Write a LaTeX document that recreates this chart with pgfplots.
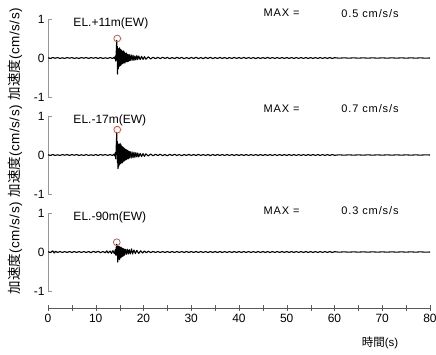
\documentclass[border=0pt]{standalone}
\usepackage{fontspec}
\setmainfont{Liberation Sans}
\newfontfamily\jp{Noto Sans CJK JP}
\usepackage{pgfplots}
\pgfplotsset{compat=1.18}
\definecolor{circred}{RGB}{215,85,65}
\definecolor{axgray}{RGB}{150,150,150}
\pgfplotsset{
 panel/.style={scale only axis, width=382pt, height=78pt, xmin=0, xmax=80, ymin=-1, ymax=1,
   axis x line=none, axis y line*=left, ytick={-1,0,1}, tick align=inside, major tick length=4pt,
   y axis line style={axgray,-}, ytick style={axgray},
   yticklabel style={font=\fontsize{12}{14}\selectfont},
   /pgf/number format/assume math mode=true,
   ylabel={{\jp 加速度}(cm/s/s)},
   every axis y label/.style={at={(rel axis cs:-0.0864,0.55)}, rotate=90, anchor=center,
     font=\fontsize{13.5}{15}\selectfont\addfontfeatures{LetterSpace=4}},
   clip=false},
 wave/.style={black, line width=1.1pt, line join=round, no markers},
 peak/.style={only marks, mark=o, mark size=3.4pt, circred, mark options={line width=0.8pt}},
}
\tikzset{
 eltext/.style={anchor=west, font=\fontsize{12}{14}\selectfont},
 maxtext/.style={anchor=west, font=\fontsize{11}{13}\selectfont\addfontfeatures{LetterSpace=8}},
}
\begin{document}
\begin{tikzpicture}
\useasboundingbox (0,0) rectangle (436pt,354pt);
% ---------------- panel 1 ----------------
\begin{axis}[panel, at={(48pt,257pt)}, anchor=south west]
\addplot[wave] coordinates {(0,0.006)(0.5,-0.012)(1,0.012)(1.5,-0.006)(2,0.012)(2.5,-0.012)(3,0.006)(3.5,-0.012)(4,0.012)(4.5,-0.006)(5,0.012)(5.5,-0.012)(6,0.006)(6.5,-0.012)(7,0.012)(7.5,-0.006)(8,0.012)(8.5,-0.012)(9,0.012)(9.5,-0.006)(10,0.012)(10.5,-0.012)(11,0.012)(11.5,-0.012)(12,0.006)(12.5,-0.012)(13,0.012)(13.5,-0.012)(13.8,0.015)(14,-0.02)(14.1,0.05)(14.2,-0.08)(14.3,0.18)(14.4,0.45)(14.45,-0.05)(14.5,0.3)(14.55,-0.41)(14.6,0.2)(14.7,-0.28)(14.8,0.24)(14.9,-0.22)(15,0.26)(15.1,-0.2)(15.2,0.22)(15.3,-0.18)(15.4,0.2)(15.5,-0.15)(15.6,0.17)(15.7,-0.14)(15.8,0.18)(15.9,-0.12)(16,0.15)(16.1,-0.13)(16.2,0.12)(16.3,-0.1)(16.4,0.13)(16.5,-0.09)(16.6,0.1)(16.7,-0.1)(16.8,0.08)(16.9,-0.08)(17,0.09)(17.2,-0.07)(17.4,0.08)(17.6,-0.06)(17.8,0.07)(18,-0.06)(18.2,0.05)(18.4,-0.05)(18.6,0.06)(18.8,-0.04)(19,0.05)(19.3,-0.04)(19.6,0.04)(19.9,-0.035)(20.2,0.035)(20.5,-0.03)(21,0.03)(21.5,-0.025)(22,0.02)(22.5,-0.018)(23,0.018)(23.5,-0.015)(24,0.018)(24.5,-0.012)(25,0.015)(25.5,-0.018)(26,0.012)(26.5,-0.015)(27,0.018)(27.5,-0.012)(28,0.015)(28.5,-0.018)(29,0.012)(29.5,-0.015)(30,0.015)(30.5,-0.012)(31,0.018)(31.5,-0.015)(32,0.012)(32.5,-0.015)(33,0.015)(33.5,-0.012)(34,0.018)(34.5,-0.015)(35,0.012)(35.5,-0.012)(36,0.015)(36.5,-0.012)(37,0.012)(37.5,-0.015)(38,0.012)(38.5,-0.012)(39,0.015)(39.5,-0.012)(40,0.012)(40.5,-0.012)(41,0.015)(41.5,-0.012)(42,0.012)(42.5,-0.012)(43,0.012)(43.5,-0.015)(44,0.012)(44.5,-0.012)(45,0.012)(45.5,-0.012)(46,0.015)(46.5,-0.012)(47,0.012)(47.5,-0.012)(48,0.012)(48.5,-0.012)(49,0.012)(49.5,-0.012)(50,0.012)(50.5,-0.012)(51,0.012)(51.5,-0.012)(52,0.012)(52.5,-0.012)(53,0.012)(53.5,-0.012)(54,0.012)(54.5,-0.012)(55,0.012)(55.5,-0.012)(56,0.012)(56.5,-0.012)(57,0.012)(57.5,-0.012)(58,0.012)(58.5,-0.012)(59,0.012)(59.5,-0.012)(60,0.008)(61,-0.005)(62,0.005)(63,-0.005)(64,0.005)(65,-0.005)(66,0.005)(67,-0.005)(68,0.005)(69,-0.005)(70,0.005)(71,-0.005)(72,0.005)(73,-0.005)(74,0.005)(75,-0.005)(76,0.005)(77,-0.005)(78,0.005)(79,-0.005)(80,0)};
\addplot[peak] coordinates {(14.5,0.5)};
\node[eltext] at (axis cs:4.6,0.9) {EL.+11m(EW)};
\node[maxtext] at (axis cs:44.4,1.15) {MAX =};
\node[maxtext] at (axis cs:60.7,1.15) {0.5 cm/s/s};
\end{axis}
% ---------------- panel 2 ----------------
\begin{axis}[panel, at={(48pt,160pt)}, anchor=south west]
\addplot[wave] coordinates {(0,0.006)(0.5,-0.012)(1,0.012)(1.5,-0.012)(2,0.006)(2.5,-0.012)(3,0.012)(3.5,-0.006)(4,0.012)(4.5,-0.012)(5,0.012)(5.5,-0.006)(6,0.012)(6.5,-0.012)(7,0.006)(7.5,-0.012)(8,0.012)(8.5,-0.012)(9,0.006)(9.5,-0.012)(10,0.012)(10.5,-0.012)(11,0.012)(11.5,-0.006)(12,0.012)(12.5,-0.012)(13,0.012)(13.5,-0.012)(13.8,0.02)(14,-0.025)(14.1,0.06)(14.2,-0.1)(14.3,0.25)(14.4,0.58)(14.45,0.1)(14.5,0.35)(14.55,-0.2)(14.6,0.3)(14.65,-0.35)(14.7,0.28)(14.8,-0.3)(14.9,0.27)(15,-0.25)(15.1,0.3)(15.2,-0.22)(15.3,0.26)(15.4,-0.2)(15.5,0.22)(15.6,-0.2)(15.7,0.2)(15.8,-0.16)(15.9,0.18)(16,-0.15)(16.1,0.16)(16.2,-0.13)(16.3,0.14)(16.4,-0.12)(16.5,0.13)(16.6,-0.1)(16.7,0.11)(16.8,-0.1)(16.9,0.1)(17,-0.08)(17.2,0.09)(17.4,-0.08)(17.6,0.08)(17.8,-0.07)(18,0.07)(18.2,-0.06)(18.4,0.06)(18.6,-0.05)(18.8,0.05)(19,-0.05)(19.3,0.04)(19.6,-0.04)(19.9,0.035)(20.2,-0.035)(20.5,0.03)(21,-0.025)(21.5,0.025)(22,-0.02)(22.5,0.018)(23,-0.012)(23.5,0.018)(24,-0.015)(24.5,0.012)(25,-0.018)(25.5,0.015)(26,-0.012)(26.5,0.018)(27,-0.012)(27.5,0.012)(28,-0.018)(28.5,0.012)(29,-0.012)(29.5,0.015)(30,-0.012)(30.5,0.012)(31,-0.012)(31.5,0.015)(32,-0.012)(32.5,0.012)(33,-0.012)(33.5,0.012)(34,-0.015)(34.5,0.012)(35,-0.012)(35.5,0.012)(36,-0.012)(36.5,0.012)(37,-0.012)(37.5,0.012)(38,-0.012)(38.5,0.012)(39,-0.012)(39.5,0.012)(40,-0.012)(40.5,0.012)(41,-0.012)(41.5,0.012)(42,-0.012)(42.5,0.012)(43,-0.012)(43.5,0.012)(44,-0.012)(44.5,0.012)(45,-0.012)(45.5,0.012)(46,-0.012)(46.5,0.012)(47,-0.012)(47.5,0.012)(48,-0.012)(48.5,0.012)(49,-0.012)(49.5,0.012)(50,-0.012)(50.5,0.012)(51,-0.012)(51.5,0.012)(52,-0.012)(52.5,0.012)(53,-0.012)(53.5,0.012)(54,-0.012)(54.5,0.012)(55,-0.012)(55.5,0.012)(56,-0.012)(56.5,0.012)(57,-0.012)(57.5,0.012)(58,-0.012)(58.5,0.012)(59,-0.012)(59.5,0.012)(60,-0.008)(61,0.005)(62,-0.005)(63,0.005)(64,-0.005)(65,0.005)(66,-0.005)(67,0.005)(68,-0.005)(69,0.005)(70,-0.005)(71,0.005)(72,-0.005)(73,0.005)(74,-0.005)(75,0.005)(76,-0.005)(77,0.005)(78,-0.005)(79,0.005)(80,0)};
\addplot[peak] coordinates {(14.5,0.65)};
\node[eltext] at (axis cs:4.6,0.9) {EL.-17m(EW)};
\node[maxtext] at (axis cs:44.4,1.18) {MAX =};
\node[maxtext] at (axis cs:60.7,1.18) {0.7 cm/s/s};
\end{axis}
% ---------------- panel 3 ----------------
\begin{axis}[panel, at={(48pt,63pt)}, anchor=south west]
\addplot[wave] coordinates {(0,0.006)(0.5,-0.012)(1,0.03)(1.3,-0.025)(1.6,0.02)(2,-0.012)(2.5,0.012)(3,-0.012)(3.5,0.012)(4,-0.012)(4.5,0.012)(5,-0.012)(5.5,0.012)(6,-0.012)(6.5,0.012)(7,-0.012)(7.5,0.012)(8,-0.012)(8.5,0.012)(9,-0.018)(9.5,0.018)(10,-0.012)(10.5,0.018)(11,-0.018)(11.5,0.012)(12,-0.02)(12.3,0.03)(12.6,-0.025)(13,0.025)(13.3,-0.035)(13.6,0.035)(13.9,-0.04)(14.1,0.06)(14.2,-0.08)(14.3,0.12)(14.4,0.2)(14.5,-0.1)(14.55,0.15)(14.6,-0.26)(14.7,0.15)(14.8,-0.18)(14.9,0.14)(15,-0.2)(15.1,0.13)(15.2,-0.15)(15.3,0.12)(15.4,-0.13)(15.5,0.1)(15.6,-0.11)(15.7,0.09)(15.8,-0.1)(15.9,0.08)(16,-0.08)(16.2,0.07)(16.4,-0.06)(16.6,0.07)(16.8,-0.05)(17,0.06)(17.2,-0.05)(17.5,0.08)(17.7,-0.05)(18,0.05)(18.3,-0.04)(18.6,0.04)(19,-0.035)(19.4,0.03)(19.8,-0.025)(20.2,0.025)(20.6,-0.02)(21,0.02)(21.5,-0.015)(22,0.015)(22.5,-0.012)(23,0.012)(23.5,-0.012)(24,0.012)(24.5,-0.012)(25,0.012)(25.5,-0.012)(26,0.012)(26.5,-0.012)(27,0.012)(27.5,-0.012)(28,0.012)(28.5,-0.012)(29,0.012)(29.5,-0.012)(30,0.012)(30.5,-0.012)(31,0.012)(31.5,-0.012)(32,0.012)(32.5,-0.012)(33,0.012)(33.5,-0.012)(34,0.012)(34.5,-0.012)(35,0.012)(35.5,-0.012)(36,0.012)(36.5,-0.012)(37,0.012)(37.5,-0.012)(38,0.012)(38.5,-0.012)(39,0.012)(39.5,-0.012)(40,0.012)(40.5,-0.012)(41,0.012)(41.5,-0.012)(42,0.012)(42.5,-0.012)(43,0.012)(43.5,-0.012)(44,0.012)(44.5,-0.012)(45,0.012)(45.5,-0.012)(46,0.012)(46.5,-0.012)(47,0.012)(47.5,-0.012)(48,0.012)(48.5,-0.012)(49,0.012)(49.5,-0.012)(50,0.012)(50.5,-0.012)(51,0.012)(51.5,-0.012)(52,0.012)(52.5,-0.012)(53,0.012)(53.5,-0.012)(54,0.012)(54.5,-0.012)(55,0.012)(55.5,-0.012)(56,0.012)(56.5,-0.012)(57,0.012)(57.5,-0.012)(58,0.012)(58.5,-0.012)(59,0.012)(59.5,-0.012)(60,0.008)(61,-0.005)(62,0.005)(63,-0.005)(64,0.005)(65,-0.005)(66,0.005)(67,-0.005)(68,0.005)(69,-0.005)(70,0.005)(71,-0.005)(72,0.005)(73,-0.005)(74,0.005)(75,-0.005)(76,0.005)(77,-0.005)(78,0.005)(79,-0.005)(80,0)};
\addplot[peak] coordinates {(14.4,0.25)};
\node[eltext] at (axis cs:4.6,0.9) {EL.-90m(EW)};
\node[maxtext] at (axis cs:44.4,1.07) {MAX =};
\node[maxtext] at (axis cs:60.7,1.07) {0.3 cm/s/s};
\end{axis}
% ---------------- time axis ----------------
\begin{axis}[at={(48pt,46pt)}, anchor=south west, scale only axis, width=382pt, height=5pt,
  xmin=0, xmax=80, ymin=0, ymax=1, axis x line*=bottom, axis y line=none,
  xtick={0,10,...,80}, minor xtick={5,15,...,75}, tick align=center,
  major tick length=6pt, minor tick length=6pt,
  x axis line style={black!65,-}, xtick style={black!65}, minor tick style={black!65},
  xticklabel style={font=\fontsize{12}{14}\selectfont},
  /pgf/number format/assume math mode=true,
  xlabel={{\jp 時間}(s)},
  every axis x label/.style={at={(rel axis cs:0.869,0)}, anchor=center, yshift=-35pt,
    font=\fontsize{11.5}{13}\selectfont}]
\end{axis}
\end{tikzpicture}
\end{document}
